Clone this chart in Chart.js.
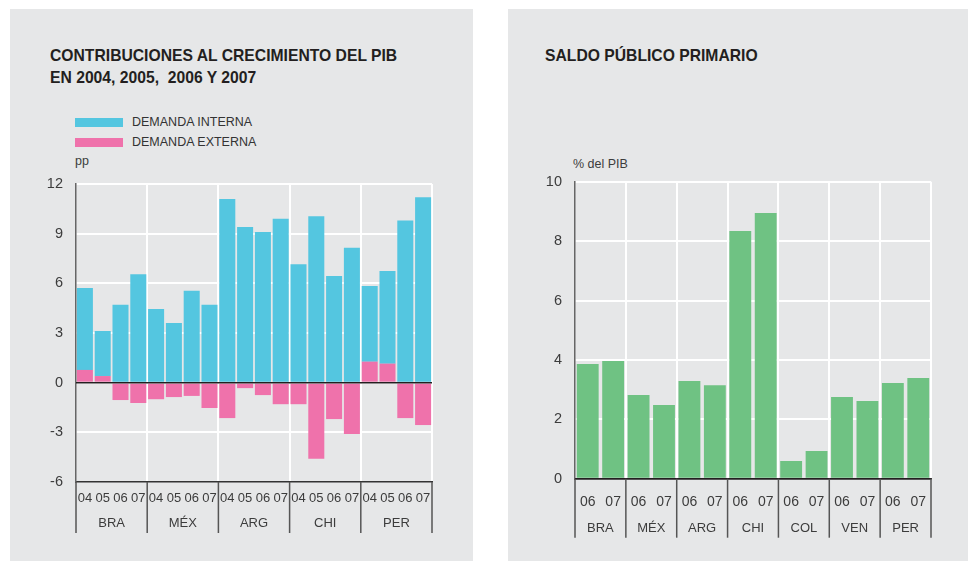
<!DOCTYPE html>
<html>
<head>
<meta charset="utf-8">
<script src="https://cdn.jsdelivr.net/npm/chart.js@4.4.0/dist/chart.umd.min.js"></script>
<style>
  body { margin: 0; width: 970px; height: 565px; position: relative; overflow: hidden; background: #fff;
         font-family: "Liberation Sans", Arial, sans-serif; }
  .panel { position: absolute; top: 9px; height: 552px; background: #e6e7e8; }
  .title { position: absolute; font-weight: bold; font-size: 15.7px; line-height: 22px; color: #231f20; }
  .unit { position: absolute; font-size: 12.5px; line-height: 15px; color: #3c3c3c; }
  .legend { position: absolute; left: 75px; top: 112px; font-size: 12.5px; color: #333; }
  .legend .row { display: flex; align-items: center; height: 20px; }
  .legend .sw { display: inline-block; width: 48px; height: 9px; margin-right: 9px; }
  canvas { position: absolute; }
</style>
</head>
<body>
<div class="panel" style="left:10px; width:463px;"></div>
<div class="panel" style="left:508px; width:460px;"></div>

<div class="title" style="left:50px; top:45px;">CONTRIBUCIONES AL CRECIMIENTO DEL PIB<br>EN 2004, 2005,&nbsp; 2006 Y 2007</div>
<div class="title" style="left:545px; top:45px;">SALDO PÚBLICO PRIMARIO</div>
<div class="legend" id="legend-left"></div>
<div class="unit" style="left:75px; top:154px;">pp</div>
<div class="unit" style="left:573px; top:157px;">% del PIB</div>

<canvas id="chart-left" width="463" height="390" style="left:10px; top:160px;"></canvas>
<canvas id="chart-right" width="460" height="400" style="left:508px; top:150px;"></canvas>

<script>
// --- data: contributions to GDP growth (pp) ---
const leftCountries = ['BRA', 'MÉX', 'ARG', 'CHI', 'PER'];
const leftYears = ['04', '05', '06', '07'];
const demandaInterna = [4.95, 2.72, 4.7, 6.55, 4.45, 3.6, 5.55, 4.7, 11.1, 9.4, 9.1, 9.9, 7.15, 10.05, 6.45, 8.15, 4.57, 5.6, 9.8, 11.2];
const demandaExterna = [0.77, 0.4, -1.05, -1.23, -1.0, -0.87, -0.8, -1.53, -2.14, -0.33, -0.75, -1.3, -1.3, -4.6, -2.2, -3.1, 1.27, 1.15, -2.14, -2.56];
const leftTicks = [-6, -3, 0, 3, 6, 9, 12];

// --- data: primary fiscal balance (% of GDP) ---
const rightCountries = ['BRA', 'MÉX', 'ARG', 'CHI', 'COL', 'VEN', 'PER'];
const rightYears = ['06', '07'];
const saldoPrimario = [3.86, 3.96, 2.82, 2.48, 3.29, 3.15, 8.34, 8.95, 0.6, 0.93, 2.75, 2.62, 3.22, 3.39];
const rightTicks = [0, 2, 4, 6, 8, 10];

const BLUE = '#54c6e0';
const PINK = '#ef72ab';
const GREEN = '#6fc283';
const TEXT = '#3c3c3c';
const NONE = 'rgba(0,0,0,0)';

Chart.defaults.font.family = '"Liberation Sans", Arial, sans-serif';
Chart.defaults.color = TEXT;

// zero line over the bars + group separators under the plot
const axisLines = {
    id: 'axisLines',
    afterDatasetsDraw(chart) {
        const { ctx, chartArea, scales } = chart;
        ctx.save();
        const y0 = scales.y.getPixelForValue(0);
        ctx.strokeStyle = '#231f20';
        ctx.lineWidth = 1.5;
        ctx.beginPath();
        ctx.moveTo(chartArea.left, y0);
        ctx.lineTo(chartArea.right, y0);
        ctx.stroke();

        const g = scales.x2;
        const xs = [chartArea.left];
        for (let i = 1; i < g.ticks.length; i++) {
            xs.push((g.getPixelForTick(i - 1) + g.getPixelForTick(i)) / 2);
        }
        xs.push(chartArea.right);
        ctx.strokeStyle = '#555';
        xs.forEach(x => {
            ctx.beginPath();
            ctx.moveTo(x, chartArea.bottom);
            ctx.lineTo(x, g.bottom);
            ctx.stroke();
        });
        ctx.restore();
    }
};

function xAxes(countries, yearSize, yearPad, yearH, countryPad, countryH, stacked) {
    return {
        x: {
            stacked: stacked,
            offset: true,
            grid: { display: false, drawTicks: false },
            border: { display: true, color: '#333', width: 1.5 },
            ticks: { autoSkip: false, maxRotation: 0, padding: yearPad, color: TEXT, font: { size: yearSize } },
            afterFit: s => { s.height = yearH; }
        },
        x2: {
            type: 'category',
            labels: countries,
            position: 'bottom',
            weight: 1,
            offset: true,
            grid: { offset: true, drawTicks: false, lineWidth: 2, color: c => c.index === 0 ? NONE : '#ffffff' },
            border: { display: false },
            ticks: { autoSkip: false, maxRotation: 0, padding: countryPad, color: TEXT, font: { size: 13 } },
            afterFit: s => { s.height = countryH; }
        }
    };
}

function yAxis(ticks, width, stacked) {
    return {
        stacked: stacked,
        min: ticks[0],
        max: ticks[ticks.length - 1],
        ticks: { stepSize: ticks[1] - ticks[0], padding: 13, color: TEXT, font: { size: 14.5 } },
        grid: { lineWidth: 2, drawTicks: false, color: c => c.tick.value === ticks[0] ? NONE : '#ffffff' },
        border: { color: '#666', width: 1.5 },
        afterFit: s => { s.width = width; }
    };
}

const leftChart = new Chart(document.getElementById('chart-left'), {
    type: 'bar',
    data: {
        labels: leftCountries.flatMap(() => leftYears),
        datasets: [{
            label: 'DEMANDA INTERNA',
            data: demandaInterna,
            backgroundColor: BLUE,
            order: 1,
            barPercentage: 0.9,
            categoryPercentage: 1
        }, {
            label: 'DEMANDA EXTERNA',
            data: demandaExterna,
            backgroundColor: PINK,
            order: 0,
            barPercentage: 0.9,
            categoryPercentage: 1
        }]
    },
    options: {
        responsive: false,
        animation: false,
        layout: { padding: { top: 24, right: 41, bottom: 17, left: 0 } },
        plugins: { legend: { display: false }, tooltip: { enabled: false } },
        scales: Object.assign(xAxes(leftCountries, 13, 9, 28, 6, 23, true), { y: yAxis(leftTicks, 66, true) })
    },
    plugins: [axisLines]
});

// html legend from the datasets
document.getElementById('legend-left').innerHTML = leftChart.data.datasets.map(ds =>
    `<div class="row"><span class="sw" style="background:${ds.backgroundColor}"></span>${ds.label}</div>`
).join('');

new Chart(document.getElementById('chart-right'), {
    type: 'bar',
    data: {
        labels: rightCountries.flatMap(() => rightYears),
        datasets: [{
            label: 'Saldo público primario',
            data: saldoPrimario,
            backgroundColor: GREEN,
            barPercentage: 0.86,
            categoryPercentage: 1
        }]
    },
    options: {
        responsive: false,
        animation: false,
        layout: { padding: { top: 31.7, right: 37, bottom: 12.3, left: 0 } },
        plugins: { legend: { display: false }, tooltip: { enabled: false } },
        scales: Object.assign(xAxes(rightCountries, 14, 15, 30, 12, 29, false), { y: yAxis(rightTicks, 67, false) })
    },
    plugins: [axisLines]
});
</script>
</body>
</html>
